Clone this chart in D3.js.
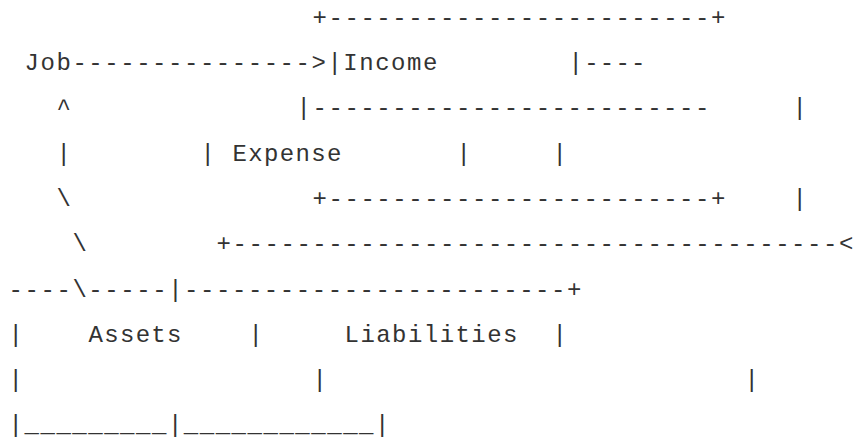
<!DOCTYPE html>
<html>
<head>
<meta charset="utf-8">
<script src="https://cdn.jsdelivr.net/npm/d3@7"></script>
<style>
  body { margin: 0; background: #fff; }
  svg text { font-family: "Liberation Mono", "Courier New", monospace; fill: #333; }
</style>
</head>
<body>
<svg id="diagram" width="857" height="441"></svg>
<script>
// ascii diagram rows, one string per line
const rows = [
  "                   +------------------------+",
  " Job--------------->|Income        |----",
  "   ^              |-------------------------     |",
  "   |        | Expense       |     |",
  "   \\               +------------------------+    |",
  "    \\        +--------------------------------------<",
  "----\\-----|------------------------+",
  "|    Assets    |     Liabilities  |",
  "|                  |                          |",
  "|_________|____________|"
];

const svg = d3.select("#diagram");

let x = d3.scaleLinear().domain([0, 53]).range([7, 7 + 53 * 16]);
let y = d3.scalePoint().domain(d3.range(rows.length)).range([24.7, 24.7 + 9 * 45.3]);

// split each row into runs of non-space chars so every glyph lands on its column
let runs = [];
rows.forEach((r, i) => {
    let re = /\S+/g, m;
    while ((m = re.exec(r)) !== null) {
        runs.push({row: i, col: m.index, text: m[0]});
    }
});

svg.selectAll("text")
    .data(runs)
    .enter().append("text")
    .attr("x", d => x(d.col) + 1.6)
    .attr("y", d => y(d.row))
    .attr("font-size", "24px")
    .attr("textLength", d => d.text.length * 16 - 3.2)
    .attr("lengthAdjust", "spacing")
    .text(d => d.text);
</script>
</body>
</html>
